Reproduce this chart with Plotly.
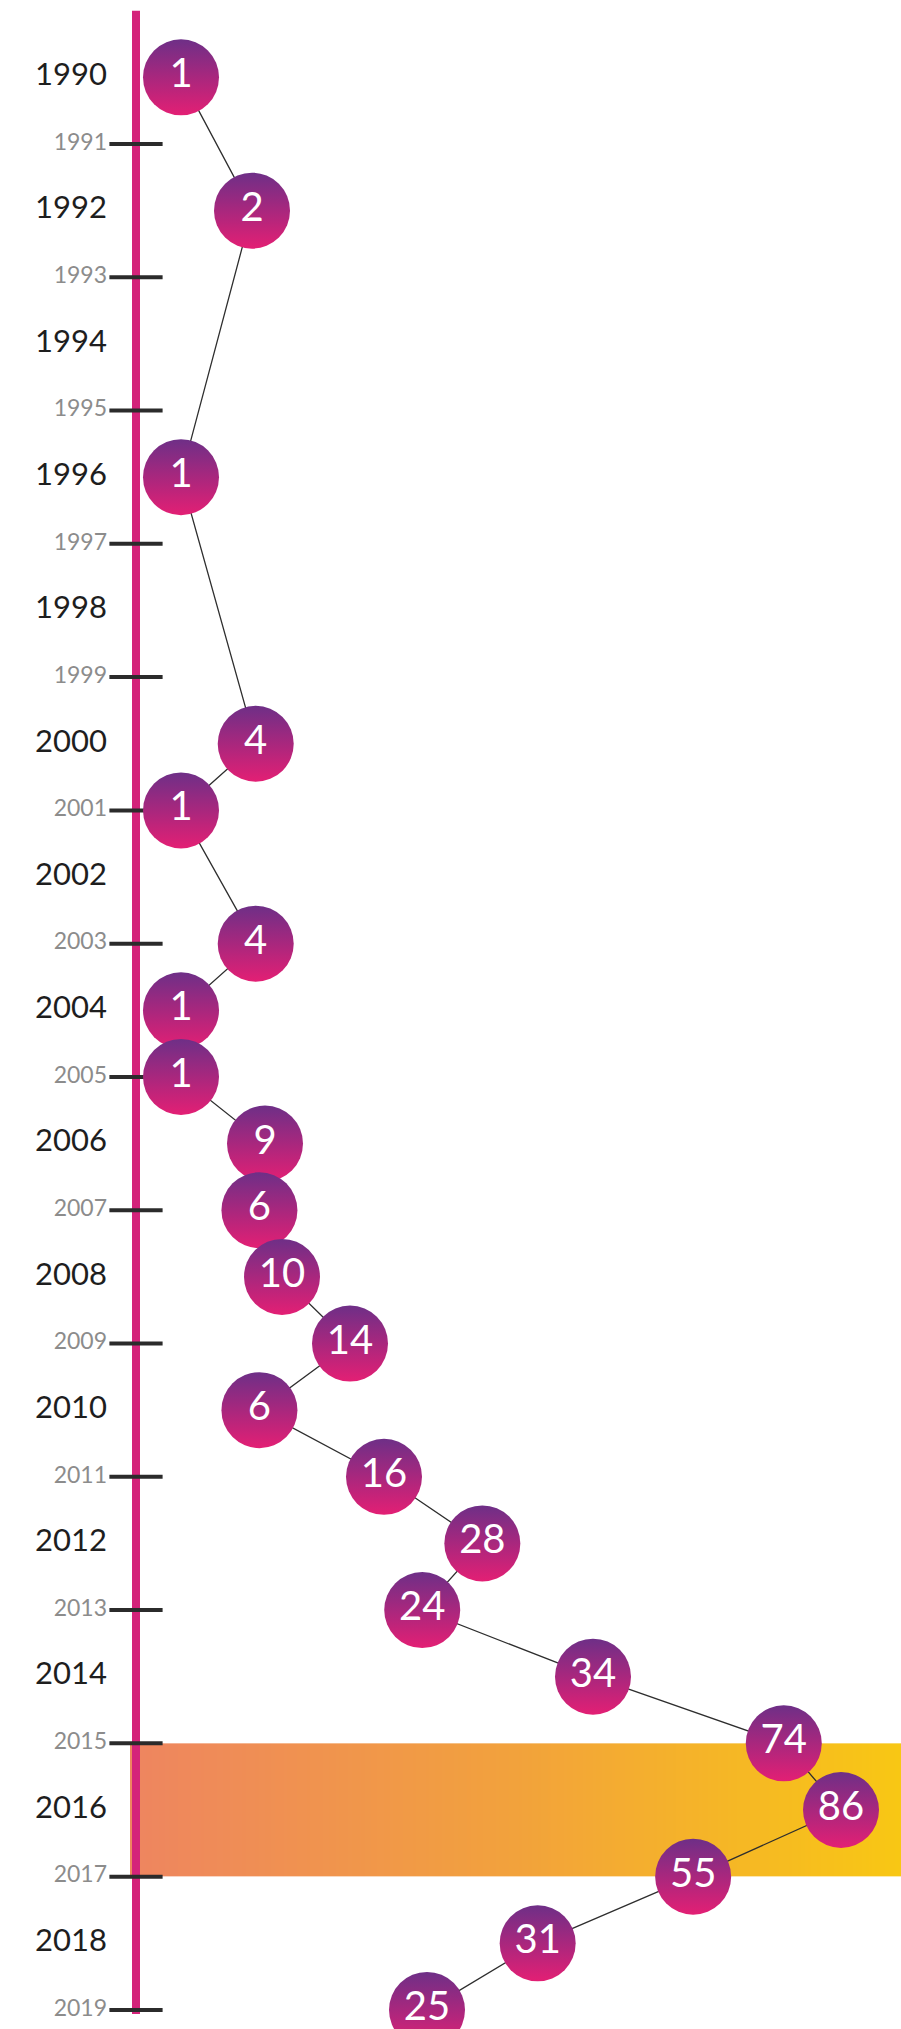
import numpy as np
import plotly.graph_objects as go

# ---- data -------------------------------------------------------------
years = [1990, 1992, 1996, 2000, 2001, 2003, 2004, 2005, 2006, 2007, 2008,
         2009, 2010, 2011, 2012, 2013, 2014, 2015, 2016, 2017, 2018, 2019]
counts = [1, 2, 1, 4, 1, 4, 1, 1, 9, 6, 10,
          14, 6, 16, 28, 24, 34, 74, 86, 55, 31, 25]

label_years = list(range(1990, 2020))
tick_years = [y for y in label_years if y % 2 == 1]
major_years = [y for y in label_years if y % 2 == 0]

highlight_years = [2015, 2017]

# ---- scales -----------------------------------------------------------
W, H = 901, 2029
PX_PER_YEAR = 66.64
Y_TOP = 1991 - 144 / PX_PER_YEAR
Y_BOTTOM = Y_TOP + H / PX_PER_YEAR

# piecewise-linear horizontal scale: count -> x
scale_domain = [1, 2, 9, 16, 25, 34, 86]
scale_range = [181, 252, 265, 384, 427, 593, 841]


def xscale(v):
    return np.interp(v, scale_domain, scale_range)


TIMELINE_X = 136
LABEL_X = 107

PINK = "#D4237A"
PURPLE = "#6E2F87"
MAGENTA = "#E31F74"
DARK = "#2B2B2B"

fig = go.Figure()

# highlighted period, orange-to-yellow band
band_edges = np.linspace(130, W, 241)
band_z = [list(np.linspace(0, 1, len(band_edges) - 1))]
fig.add_trace(go.Heatmap(
    x=band_edges, y=highlight_years, z=band_z,
    colorscale=[[0, "#EE8560"], [0.5, "#F2A23C"], [1, "#F8C714"]],
    showscale=False, hoverinfo="skip", zsmooth=False,
))

# vertical timeline
fig.add_trace(go.Scatter(
    x=[TIMELINE_X, TIMELINE_X], y=[label_years[0] - 1, label_years[-1] + 0.06],
    mode="lines", line=dict(color=PINK, width=8),
    hoverinfo="skip", showlegend=False,
))

# tick marks on odd years
fig.add_trace(go.Scatter(
    x=[TIMELINE_X] * len(tick_years), y=tick_years,
    mode="markers",
    marker=dict(symbol="line-ew", size=38, line=dict(color=DARK, width=4)),
    hoverinfo="skip", showlegend=False,
))

# year labels
fig.add_trace(go.Scatter(
    x=[LABEL_X] * len(major_years), y=major_years,
    mode="text", text=[str(y) for y in major_years],
    textposition="middle left",
    textfont=dict(family="Lato", size=31, color="#1E1E1E"),
    hoverinfo="skip", showlegend=False,
))
fig.add_trace(go.Scatter(
    x=[LABEL_X] * len(tick_years), y=tick_years,
    mode="text", text=[str(y) for y in tick_years],
    textposition="middle left",
    textfont=dict(family="Lato", size=23, color="#8C8C8C"),
    hoverinfo="skip", showlegend=False,
))

# yearly counts as connected bubbles
fig.add_trace(go.Scatter(
    x=xscale(counts), y=years,
    mode="lines+markers+text",
    line=dict(color="#2E2E2E", width=1.3),
    marker=dict(size=76, color=PURPLE,
                gradient=dict(type="vertical", color=MAGENTA),
                line=dict(width=0)),
    text=[str(c) for c in counts],
    textposition="middle center",
    textfont=dict(family="Lato", size=40, color="white"),
    hoverinfo="skip", showlegend=False, cliponaxis=False,
))

fig.update_layout(
    width=W, height=H,
    margin=dict(l=0, r=0, t=0, b=0),
    paper_bgcolor="white", plot_bgcolor="white",
    xaxis=dict(range=[0, W], visible=False, fixedrange=True),
    yaxis=dict(range=[Y_BOTTOM, Y_TOP], visible=False, fixedrange=True),
    showlegend=False,
)

fig.write_html("out.html")
